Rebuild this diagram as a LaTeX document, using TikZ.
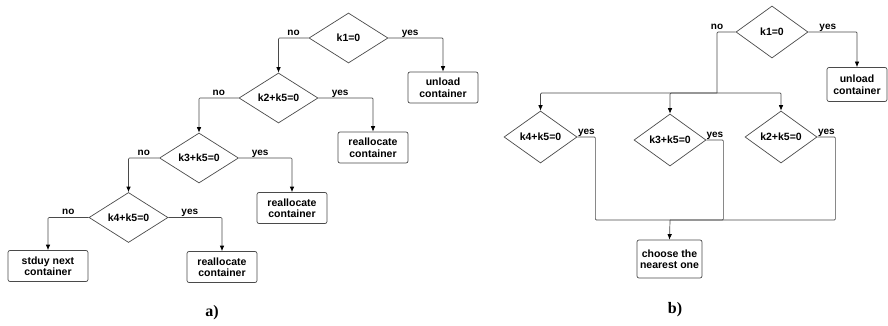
\documentclass[tikz,border=0pt]{standalone}
\usepackage{fontspec}
\setmainfont{Liberation Serif}
\setsansfont{Liberation Sans}
\usetikzlibrary{arrows.meta,shapes.geometric}
\definecolor{edgegray}{HTML}{4A4A4A}

\begin{document}
\begin{tikzpicture}[x=1pt,y=-1pt,>={Latex[length=5.5pt,width=4.5pt,color=black]},
  font=\sffamily\bfseries\fontsize{10.5}{11.5}\selectfont,
  decision/.style={diamond,draw=edgegray,line width=0.7pt,inner sep=0pt,shape aspect=1.6,
    minimum width=79pt,minimum height=50pt},
  smalldec/.style={decision,minimum width=73pt,minimum height=52pt},
  box/.style={draw=edgegray,line width=0.7pt,rounded corners=2pt,align=center,inner sep=2pt,
    minimum width=70pt,minimum height=31pt},
  lbl/.style={above,inner sep=2.5pt,text depth=0pt,font=\sffamily\bfseries\fontsize{10}{11}\selectfont},
  flow/.style={draw=edgegray,line width=0.7pt,rounded corners=1pt}]
  \useasboundingbox (0,0) rectangle (888,326);

  % a) chain of tests
  \node[decision] (k1) at (348.5,38) {k1=0};
  \node[decision] (k2) at (278.5,98) {k2+k5=0};
  \node[decision] (k3) at (199,158) {k3+k5=0};
  \node[decision] (k4) at (128.5,217.5) {k4+k5=0};
  \node[box] (unload) at (443,87.5) {unload\\container};
  \node[box] (realloc1) at (373,147.5) {reallocate\\container};
  \node[box] (realloc2) at (292,208) {reallocate\\container};
  \node[box] (realloc3) at (222,267) {reallocate\\container};
  \node[box,minimum width=80pt] (study) at (48,266) {stduy next\\container};

  \draw[flow,->] (k1.west) -| node[lbl,pos=0.25] {no} (k2.north);
  \draw[flow,->] (k1.east) -| node[lbl,pos=0.2] {yes} (unload.north);
  \draw[flow,->] (k2.west) -| node[lbl,pos=0.25] {no} (k3.north);
  \draw[flow,->] (k2.east) -| node[lbl,pos=0.2] {yes} (realloc1.north);
  \draw[flow,->] (k3.west) -| node[lbl,pos=0.25] {no} (k4.north);
  \draw[flow,->] (k3.east) -| node[lbl,pos=0.2] {yes} (realloc2.north);
  \draw[flow,->] (k4.west) -| node[lbl,pos=0.25] {no} (study.north);
  \draw[flow,->] (k4.east) -| node[lbl,pos=0.2] {yes} (realloc3.north);

  \node[font=\rmfamily\bfseries\fontsize{16}{18}\selectfont] (capa) at (212,313) {a)};

  % b) parallel tests
  \node[smalldec,minimum width=72pt] (b1) at (772,32) {k1=0};
  \node[smalldec] (b4) at (540.5,137) {k4+k5=0};
  \node[smalldec,minimum width=72pt] (b3) at (670,140) {k3+k5=0};
  \node[smalldec,minimum width=72pt] (b2) at (781,137) {k2+k5=0};
  \node[box,minimum width=60pt,minimum height=34pt] (bunload) at (857,84.5) {unload\\container};
  \node[box,minimum width=65pt,minimum height=38pt] (pick) at (669.5,259) {choose the\\nearest one};
  \coordinate (split) at (717,93);
  \coordinate (join) at (670,220);

  \draw[flow] (b1.west) -| node[lbl,pos=0.5] {no} (split);
  \draw[flow,->] (b1.east) -| node[lbl,pos=0.2] {yes} (bunload.north);
  \draw[flow,->] (split) -| (b4.north);
  \draw[flow,->] (split) -| (b3.north);
  \draw[flow,->] (split) -| (b2.north);
  \draw[flow] (b4.east) -- node[lbl] {yes} ++(18,0) |- (join);
  \draw[flow] (b3.east) -- node[lbl] {yes} ++(17,0) |- (join);
  \draw[flow] (b2.east) -- node[lbl] {yes} ++(18,0) |- (join);
  \draw[flow,->] (join) -- (pick.north);

  \node[font=\rmfamily\bfseries\fontsize{16}{18}\selectfont] (capb) at (675,310) {b)};
\end{tikzpicture}
\end{document}
